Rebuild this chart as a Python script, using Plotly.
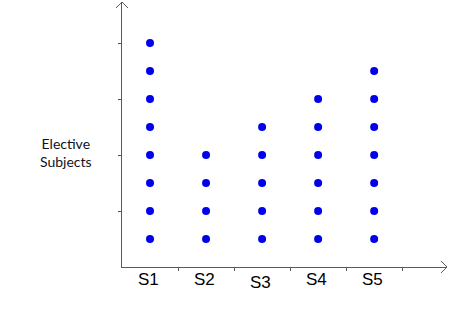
import plotly.graph_objects as go

subjects = ["S1", "S2", "S3", "S4", "S5"]
counts = [8, 4, 5, 6, 7]
y_label = "Elective<br>Subjects"

L, R, T, B = 122, 3, 2, 44
W, H = 450, 311
pw, ph = W - L - R, H - T - B
xmax = 5.8
ymax = ph / 28.0

xs, ys = [], []
for i, (s, c) in enumerate(zip(subjects, counts)):
    for k in range(1, c + 1):
        xs.append(i + 0.5)
        ys.append(k)

fig = go.Figure()
fig.add_trace(go.Scatter(x=xs, y=ys, mode="markers",
                         marker=dict(color="rgb(0,0,235)", size=8, line=dict(width=0)),
                         hoverinfo="skip", cliponaxis=False))

axis_col = "#5a5a5a"
fig.update_xaxes(range=[0, xmax], showgrid=False, zeroline=False, showline=True,
                 linecolor=axis_col, linewidth=1, ticks="outside", ticklen=3,
                 tickcolor=axis_col, tickvals=[1, 2, 3, 4, 5], ticktext=[""] * 5,
                 fixedrange=True)
fig.update_yaxes(range=[0, ymax], showgrid=False, zeroline=False, showline=True,
                 linecolor=axis_col, linewidth=1, ticks="outside", ticklen=3,
                 tickcolor=axis_col, tickvals=[2, 4, 6, 8], ticktext=[""] * 4,
                 fixedrange=True)

annotations = []
for i, s in enumerate(subjects):
    dy = -3 if s == "S3" else 0
    annotations.append(dict(x=i + 0.5 - 0.03, y=0, xref="x", yref="y", text=s,
                            showarrow=False, yanchor="top", yshift=-1 + dy,
                            font=dict(family="Liberation Sans, Arial", size=17, color="black")))
annotations.append(dict(x=(66 - L) / pw, y=(267 - 152) / ph, xref="paper", yref="paper",
                        text=y_label, showarrow=False, align="center",
                        xanchor="center", yanchor="middle",
                        font=dict(family="Lato, Open Sans", size=14, color="#111122")))

ax = 6 / pw
ay = 6 / ph
shapes = [
    dict(type="path", xref="paper", yref="paper",
         path=f"M {-ax},{1 - ay} L 0,1 L {ax},{1 - ay}",
         line=dict(color=axis_col, width=1)),
    dict(type="path", xref="paper", yref="paper",
         path=f"M {1 - ax},{ay} L 1,0 L {1 - ax},{-ay}",
         line=dict(color=axis_col, width=1)),
]

fig.update_layout(width=W, height=H, margin=dict(l=L, r=R, t=T, b=B),
                  paper_bgcolor="white", plot_bgcolor="white", showlegend=False,
                  annotations=annotations, shapes=shapes)
fig.write_html("out.html", config={"displayModeBar": False})
